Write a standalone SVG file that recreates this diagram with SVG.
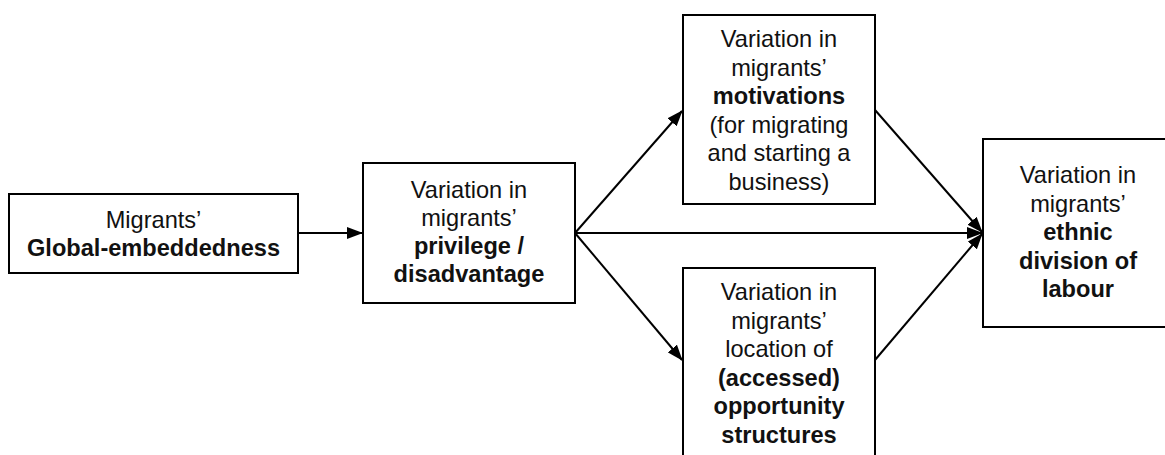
<svg xmlns="http://www.w3.org/2000/svg" width="1165" height="455" viewBox="0 0 1165 455">
<style>
.box{fill:#fff;stroke:#000;stroke-width:2}
.t{font-family:"Liberation Sans",Arial,sans-serif;font-size:23.6px;fill:#111;text-anchor:middle}
.b{font-weight:bold}
.c{stroke:#000;stroke-width:2;fill:none;marker-end:url(#ah)}
</style>
<defs>
<marker id="ah" markerUnits="userSpaceOnUse" markerWidth="16" markerHeight="12" viewBox="0 0 16 12" refX="15" refY="6" orient="auto">
<path d="M0,0 L16,6 L0,12 Z" fill="#000"/>
</marker>
</defs>
<rect width="1165" height="455" fill="#fff"/>
<g id="connectors">
<line class="c" x1="298" y1="233" x2="362" y2="233"/>
<line class="c" x1="575" y1="233" x2="682" y2="111"/>
<line class="c" x1="575" y1="233" x2="982" y2="233"/>
<line class="c" x1="575" y1="233" x2="682" y2="360"/>
<line class="c" x1="875" y1="110" x2="982" y2="232"/>
<line class="c" x1="875" y1="360" x2="982" y2="234"/>
</g>
<g id="node1">
<rect class="box" x="9" y="194" width="289" height="79"/>
<text class="t" x="153.5" y="228">Migrants’</text>
<text class="t b" x="153.5" y="256">Global-embeddedness</text>
</g>
<g id="node2">
<rect class="box" x="363" y="163" width="212" height="140"/>
<text class="t" x="469" y="198">Variation in</text>
<text class="t" x="469" y="226">migrants’</text>
<text class="t b" x="469" y="254">privilege /</text>
<text class="t b" x="469" y="282">disadvantage</text>
</g>
<g id="node3">
<rect class="box" x="683" y="15" width="192" height="189"/>
<text class="t" x="779" y="47">Variation in</text>
<text class="t" x="779" y="75.6">migrants’</text>
<text class="t b" x="779" y="104.2">motivations</text>
<text class="t" x="779" y="132.8">(for migrating</text>
<text class="t" x="779" y="161.4">and starting a</text>
<text class="t" x="779" y="190">business)</text>
</g>
<g id="node4">
<rect class="box" x="683" y="268" width="192" height="195"/>
<text class="t" x="779" y="300">Variation in</text>
<text class="t" x="779" y="328.6">migrants’</text>
<text class="t" x="779" y="357.2">location of</text>
<text class="t b" x="779" y="385.8">(accessed)</text>
<text class="t b" x="779" y="414.4">opportunity</text>
<text class="t b" x="779" y="443">structures</text>
</g>
<g id="node5">
<rect class="box" x="983" y="139" width="192" height="188"/>
<text class="t" x="1078" y="183">Variation in</text>
<text class="t" x="1078" y="211.6">migrants’</text>
<text class="t b" x="1078" y="240.2">ethnic</text>
<text class="t b" x="1078" y="268.8">division of</text>
<text class="t b" x="1078" y="297.4">labour</text>
</g>
</svg>
